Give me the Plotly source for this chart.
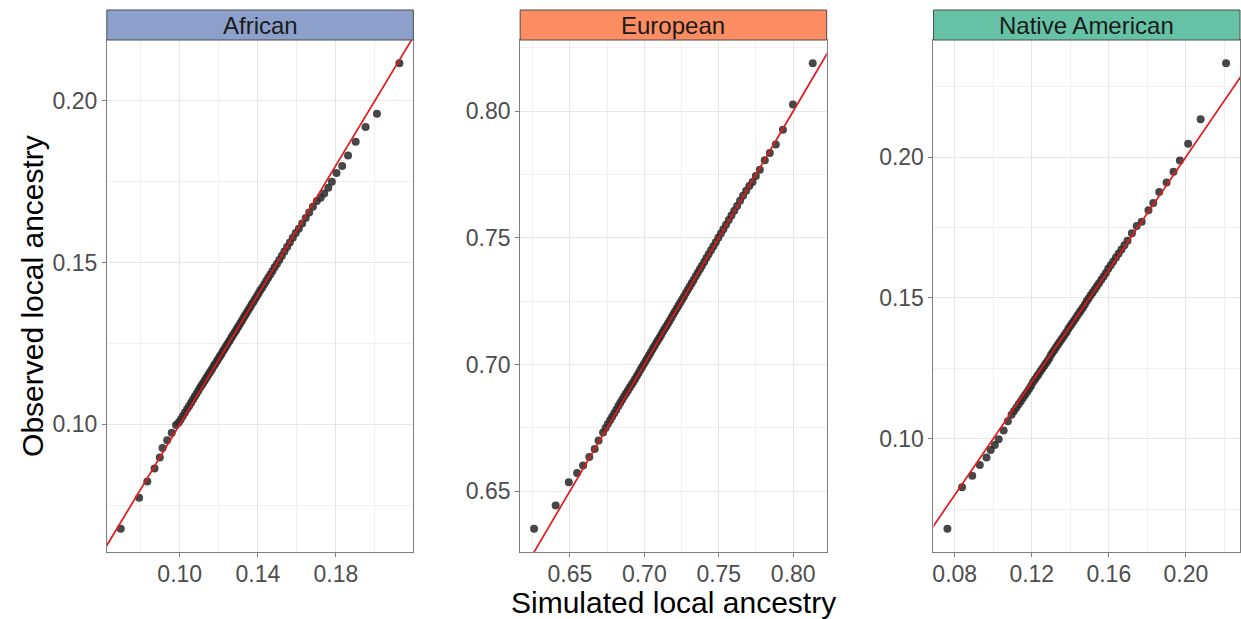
import plotly.graph_objects as go

# ---- data: simulated vs observed local ancestry quantiles ----
panels = ["African", "European", "Native American"]
strip_colors = ["#8DA0CB", "#FC8D62", "#66C2A5"]

african_sim = [
    0.0698, 0.0792, 0.0834, 0.0871, 0.0898, 0.0912, 0.0936, 0.0959, 0.0981,
    0.0995, 0.1005, 0.1016, 0.1027, 0.1038, 0.1048, 0.1058, 0.1068, 0.1077, 0.1086,
    0.1095, 0.1104, 0.1112, 0.1120, 0.1128, 0.1136, 0.1144, 0.1152, 0.1160, 0.1167,
    0.1175, 0.1182, 0.1190, 0.1197, 0.1205, 0.1212, 0.1220, 0.1227, 0.1235, 0.1242,
    0.1250, 0.1257, 0.1265, 0.1272, 0.1280, 0.1288, 0.1295, 0.1303, 0.1311, 0.1319,
    0.1327, 0.1335, 0.1343, 0.1351, 0.1360, 0.1368, 0.1377, 0.1386, 0.1395, 0.1404,
    0.1413, 0.1423, 0.1433, 0.1443, 0.1453, 0.1464, 0.1475, 0.1486, 0.1498, 0.1510,
    0.1523, 0.1536, 0.1550, 0.1564, 0.1579, 0.1594, 0.1610, 0.1627, 0.1645, 0.1663,
    0.1682, 0.1702, 0.1722,
    0.1740, 0.1761, 0.1779, 0.1803, 0.1832, 0.1862, 0.1901, 0.1952, 0.2010, 0.2125,
]
african_obs = [
    0.0678, 0.0774, 0.0824, 0.0864, 0.0898, 0.0927, 0.0951, 0.0974, 0.0998,
    0.1006, 0.1015, 0.1026, 0.1037, 0.1048, 0.1057, 0.1067, 0.1077, 0.1086, 0.1095,
    0.1104, 0.1113, 0.1121, 0.1128, 0.1136, 0.1143, 0.1151, 0.1159, 0.1166, 0.1173,
    0.1181, 0.1187, 0.1195, 0.1202, 0.1210, 0.1216, 0.1224, 0.1231, 0.1239, 0.1246,
    0.1254, 0.1260, 0.1268, 0.1275, 0.1283, 0.1290, 0.1298, 0.1305, 0.1313, 0.1321,
    0.1329, 0.1337, 0.1345, 0.1353, 0.1361, 0.1370, 0.1378, 0.1387, 0.1396, 0.1405,
    0.1414, 0.1423, 0.1433, 0.1443, 0.1453, 0.1463, 0.1474, 0.1485, 0.1496, 0.1508,
    0.1521, 0.1534, 0.1548, 0.1562, 0.1576, 0.1591, 0.1604, 0.1620, 0.1637, 0.1654,
    0.1672, 0.1690, 0.1700,
    0.1713, 0.1731, 0.1749, 0.1776, 0.1798, 0.1830, 0.1873, 0.1918, 0.1959, 0.2115,
]

european_sim = [
    0.6260, 0.6405, 0.6493, 0.6549, 0.6589, 0.6631, 0.6667, 0.6693, 0.6723,
    0.6740, 0.6755, 0.6770, 0.6784, 0.6798, 0.6812, 0.6826, 0.6839, 0.6852, 0.6865,
    0.6878, 0.6890, 0.6902, 0.6914, 0.6926, 0.6938, 0.6950, 0.6962, 0.6974, 0.6985,
    0.6997, 0.7009, 0.7020, 0.7032, 0.7043, 0.7055, 0.7066, 0.7078, 0.7089, 0.7101,
    0.7112, 0.7124, 0.7135, 0.7147, 0.7158, 0.7170, 0.7182, 0.7194, 0.7206, 0.7218,
    0.7230, 0.7242, 0.7254, 0.7266, 0.7279, 0.7292, 0.7305, 0.7318, 0.7331, 0.7345,
    0.7359, 0.7373, 0.7387, 0.7402, 0.7417, 0.7432, 0.7448, 0.7464, 0.7480, 0.7497,
    0.7514, 0.7531, 0.7549, 0.7567, 0.7585, 0.7604, 0.7623, 0.7643, 0.7663, 0.7684,
    0.7705,
    0.7727, 0.7749, 0.7776, 0.7809, 0.7843, 0.7883, 0.7931, 0.7998, 0.8131,
]
european_obs = [
    0.6352, 0.6444, 0.6535, 0.6572, 0.6602, 0.6635, 0.6667, 0.6700, 0.6732,
    0.6750, 0.6765, 0.6780, 0.6794, 0.6808, 0.6822, 0.6836, 0.6849, 0.6862, 0.6875,
    0.6887, 0.6898, 0.6909, 0.6920, 0.6931, 0.6943, 0.6955, 0.6967, 0.6979, 0.6990,
    0.7002, 0.7014, 0.7025, 0.7037, 0.7048, 0.7060, 0.7071, 0.7083, 0.7094, 0.7105,
    0.7116, 0.7128, 0.7139, 0.7150, 0.7161, 0.7173, 0.7185, 0.7197, 0.7209, 0.7221,
    0.7233, 0.7245, 0.7257, 0.7269, 0.7282, 0.7295, 0.7308, 0.7321, 0.7334, 0.7348,
    0.7362, 0.7376, 0.7390, 0.7405, 0.7420, 0.7435, 0.7451, 0.7467, 0.7483, 0.7500,
    0.7517, 0.7534, 0.7552, 0.7570, 0.7588, 0.7607, 0.7626, 0.7646, 0.7666, 0.7686,
    0.7705,
    0.7720, 0.7744, 0.7769, 0.7806, 0.7835, 0.7868, 0.7927, 0.8026, 0.8189,
]

native_sim = [
    0.0762, 0.0838, 0.0891, 0.0930, 0.0965, 0.0987, 0.1008, 0.1028, 0.1054, 0.1076,
    0.1095, 0.1108, 0.1120, 0.1132, 0.1143, 0.1154, 0.1165, 0.1176, 0.1186, 0.1196,
    0.1206, 0.1216, 0.1226, 0.1235, 0.1245, 0.1254, 0.1264, 0.1273, 0.1282, 0.1291,
    0.1300, 0.1309, 0.1318, 0.1327, 0.1336, 0.1345, 0.1354, 0.1363, 0.1372, 0.1381,
    0.1390, 0.1399, 0.1408, 0.1417, 0.1427, 0.1436, 0.1446, 0.1455, 0.1465, 0.1475,
    0.1485, 0.1495, 0.1506, 0.1516, 0.1527, 0.1538, 0.1549, 0.1561, 0.1573, 0.1585,
    0.1597, 0.1610, 0.1623, 0.1637, 0.1651, 0.1666, 0.1681, 0.1697,
    0.1720, 0.1745, 0.1771, 0.1806, 0.1831, 0.1862, 0.1900, 0.1936, 0.1969, 0.2012,
    0.2077, 0.2209,
]
native_obs = [
    0.0680, 0.0827, 0.0868, 0.0906, 0.0933, 0.0960, 0.0977, 0.0998, 0.1029, 0.1062,
    0.1085, 0.1098, 0.1110, 0.1122, 0.1133, 0.1144, 0.1155, 0.1166, 0.1176, 0.1187,
    0.1200, 0.1210, 0.1220, 0.1229, 0.1239, 0.1248, 0.1258, 0.1267, 0.1276, 0.1285,
    0.1298, 0.1307, 0.1316, 0.1325, 0.1334, 0.1343, 0.1352, 0.1361, 0.1370, 0.1379,
    0.1390, 0.1399, 0.1408, 0.1417, 0.1427, 0.1436, 0.1446, 0.1455, 0.1465, 0.1475,
    0.1488, 0.1498, 0.1509, 0.1519, 0.1530, 0.1541, 0.1552, 0.1564, 0.1576, 0.1588,
    0.1603, 0.1616, 0.1629, 0.1643, 0.1657, 0.1672, 0.1687, 0.1703,
    0.1729, 0.1755, 0.1770, 0.1811, 0.1837, 0.1876, 0.1910, 0.1948, 0.1988, 0.2047,
    0.2134, 0.2333,
]

sim_series = [african_sim, european_sim, native_sim]
obs_series = [african_obs, european_obs, native_obs]

# major tick spacing per panel
x_dtick = [0.04, 0.05, 0.04]
x_tick0 = [0.02, 0.0, 0.0]
y_dtick = [0.05, 0.05, 0.05]

# ---- layout geometry (pixels) ----
W, H = 1241, 619
panel_left = [106, 520, 934]
panel_width = 307
plot_top, plot_bottom = 40, 552
strip_top = 10

FONT = "Liberation Sans, Arial, Helvetica, sans-serif"
TICK_COLOR = "#4D4D4D"
BORDER = "#7F7F7F"
GRID_MAJOR = "#E6E6E6"
GRID_MINOR = "#F0F0F0"


def expanded(vals, mult=0.05):
    lo, hi = min(vals), max(vals)
    pad = (hi - lo) * mult
    return [lo - pad, hi + pad]


fig = go.Figure()
layout_axes = {}
shapes = []
annotations = []

for i, name in enumerate(panels):
    n = "" if i == 0 else str(i + 1)
    xa, ya = "x" + n, "y" + n
    sim, obs = sim_series[i], obs_series[i]
    xr, yr = expanded(sim), expanded(obs)

    fig.add_trace(go.Scatter(
        x=sim, y=obs, mode="markers", xaxis=xa, yaxis=ya,
        marker=dict(size=8, color="rgba(45,45,45,0.88)", line=dict(width=0)),
        showlegend=False, hoverinfo="x+y",
    ))
    # identity line y = x across the whole panel
    lo = min(xr[0], yr[0])
    hi = max(xr[1], yr[1])
    fig.add_trace(go.Scatter(
        x=[lo, hi], y=[lo, hi], mode="lines", xaxis=xa, yaxis=ya,
        line=dict(color="#E3191C", width=1.7),
        showlegend=False, hoverinfo="skip",
    ))

    x0 = panel_left[i] / W
    x1 = min((panel_left[i] + panel_width) / W, 1.0)
    y0 = 1 - plot_bottom / H
    y1 = 1 - plot_top / H

    common = dict(
        showline=True, mirror=True, linecolor=BORDER, linewidth=1,
        ticks="outside", ticklen=4, tickwidth=1, tickcolor=BORDER,
        tickfont=dict(family=FONT, size=23, color=TICK_COLOR),
        tickformat=".2f", showgrid=True, gridcolor=GRID_MAJOR, gridwidth=1.3,
        zeroline=False,
    )
    layout_axes["xaxis" + n] = dict(
        common, domain=[x0, x1], range=xr, anchor=ya,
        tick0=x_tick0[i], dtick=x_dtick[i], ticklabelstandoff=-3,
        minor=dict(tick0=0, dtick=x_dtick[i] / 2, showgrid=True,
                   gridcolor=GRID_MINOR, gridwidth=0.8, ticks=""),
    )
    layout_axes["yaxis" + n] = dict(
        common, domain=[y0, y1], range=yr, anchor=xa,
        tick0=0, dtick=y_dtick[i],
        minor=dict(tick0=0, dtick=y_dtick[i] / 2, showgrid=True,
                   gridcolor=GRID_MINOR, gridwidth=0.8, ticks=""),
    )

    # facet strip
    shapes.append(dict(
        type="rect", xref="paper", yref="paper",
        x0=x0, x1=x1, y0=y1, y1=1 - strip_top / H,
        fillcolor=strip_colors[i], line=dict(color="#4D4D4D", width=1),
        layer="above",
    ))
    annotations.append(dict(
        text=name, xref="paper", yref="paper",
        x=(x0 + x1) / 2, y=1 - (strip_top + plot_top) / 2 / H,
        xanchor="center", yanchor="middle", showarrow=False,
        font=dict(family=FONT, size=24, color="#1A1A1A"),
    ))

annotations.append(dict(
    text="Simulated local ancestry", xref="paper", yref="paper",
    x=(panel_left[0] + W) / 2 / W, y=1 - 602 / H,
    xanchor="center", yanchor="middle", showarrow=False,
    font=dict(family=FONT, size=30, color="#000000"),
))
annotations.append(dict(
    text="Observed local ancestry", xref="paper", yref="paper",
    x=31 / W, y=1 - (plot_top + plot_bottom) / 2 / H, textangle=-90,
    xanchor="center", yanchor="middle", showarrow=False,
    font=dict(family=FONT, size=30, color="#000000"),
))

fig.update_layout(
    width=W, height=H, autosize=False,
    margin=dict(l=0, r=0, t=0, b=0),
    paper_bgcolor="white", plot_bgcolor="white",
    shapes=shapes, annotations=annotations,
    **layout_axes,
)

fig.write_html("out.html")
